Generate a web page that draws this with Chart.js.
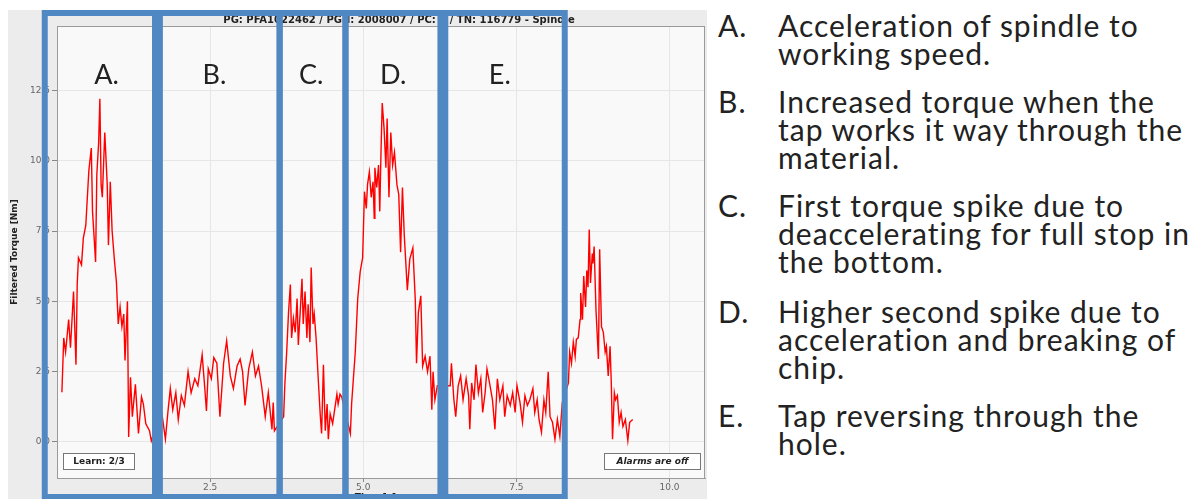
<!DOCTYPE html>
<html>
<head>
<meta charset="utf-8">
<title>Spindle torque</title>
<script src="https://cdn.jsdelivr.net/npm/chart.js@4.4.1/dist/chart.umd.min.js"></script>
<style>
body{margin:0;background:#fff;}
#wrap{position:relative;width:1202px;height:499px;overflow:hidden;}
#torque{position:absolute;left:8px;top:10px;}
#notes{position:absolute;left:718px;top:11px;width:484px;font-family:Lato,"Open Sans",sans-serif;font-size:30px;line-height:28px;letter-spacing:1px;color:#222;}
#notes .item{display:flex;margin-bottom:20px;}
#notes .item:nth-child(3){margin-bottom:22px;}
#notes .k{width:60px;flex:none;}
</style>
</head>
<body>
<div id="wrap">
	<canvas id="torque" width="699" height="489"></canvas>
	<div id="notes">
		<div class="item"><span class="k">A.</span><span>Acceleration of spindle to<br>working speed.</span></div>
		<div class="item"><span class="k">B.</span><span>Increased torque when the<br>tap works it way through the<br>material.</span></div>
		<div class="item"><span class="k">C.</span><span>First torque spike due to<br>deaccelerating for full stop in<br>the bottom.</span></div>
		<div class="item"><span class="k">D.</span><span>Higher second spike due to<br>acceleration and breaking of<br>chip.</span></div>
		<div class="item"><span class="k">E.</span><span>Tap reversing through the<br>hole.</span></div>
	</div>
</div>
<script>
// 시간 [s]
var timeSec = [
	0.08,0.11,0.14,0.19,0.22,0.27,0.31,0.33,0.35,0.40,0.43,0.47,0.52,0.56,0.58,0.63,0.65,0.68,0.70,0.72,0.74,0.78,0.82,0.84,0.87,0.90,0.94,0.97,1.00,1.03,1.06,1.09,1.11,1.15,1.17,1.20,1.23,1.28,1.33,1.38,1.41,1.45,1.51,1.54,1.62,
	1.71,1.77,1.81,1.85,1.89,1.94,1.98,2.03,2.08,2.14,2.19,2.25,2.30,2.37,2.41,2.44,2.47,2.52,2.56,2.61,2.66,2.72,2.77,2.83,2.88,2.94,2.99,3.03,3.07,3.13,3.19,3.24,3.29,3.34,3.40,3.45,3.51,3.53,3.55,
	3.70,3.72,3.75,3.78,3.81,3.83,3.86,3.89,3.92,3.94,3.97,4.00,4.02,4.05,4.08,4.10,4.13,4.15,4.18,4.20,4.23,4.27,4.30,4.32,4.35,4.38,4.41,4.43,4.46,4.50,4.53,4.57,4.59,4.62,4.65,
	4.79,4.81,4.87,4.91,4.95,4.99,5.02,5.05,5.07,5.10,5.13,5.16,5.18,5.19,5.22,5.25,5.27,5.29,5.31,5.34,5.37,5.39,5.42,5.45,5.48,5.51,5.55,5.58,5.61,5.64,5.67,5.72,5.76,5.81,5.85,5.87,5.90,5.94,5.97,6.01,6.05,6.09,6.12,6.14,6.17,6.21,
	6.42,6.44,6.48,6.51,6.55,6.59,6.63,6.68,6.72,6.74,6.77,6.81,6.84,6.88,6.92,6.95,6.99,7.02,7.07,7.11,7.15,7.19,7.23,7.28,7.31,7.35,7.40,7.44,7.48,7.51,7.56,7.60,7.64,7.68,7.72,7.77,7.80,7.84,7.87,7.91,7.95,7.98,8.02,8.05,8.09,8.13,8.17,8.21,8.25,
	8.35,8.37,8.40,8.43,8.46,8.48,8.51,8.54,8.55,8.58,8.60,8.63,8.65,8.67,8.69,8.71,8.74,8.75,8.77,8.80,8.84,8.86,8.89,8.92,8.95,8.97,9.00,9.03,9.05,9.07,9.10,9.12,9.15,9.18,9.21,9.24,9.28,9.32,9.35,9.40
];
// Filtered Torque [Nm]
var torqueNm = [
	1.77,3.70,3.20,4.35,3.35,5.35,2.75,5.60,6.55,6.30,7.25,7.70,9.65,10.45,8.20,6.40,9.50,10.65,12.20,9.15,8.70,11.00,9.15,7.00,9.25,7.50,6.40,5.70,4.20,4.80,4.10,4.55,2.90,5.00,0.18,2.30,0.90,2.05,0.30,1.60,1.35,0.65,0.40,0.04,0.60,
	1.05,0.10,1.05,1.90,1.15,1.75,0.80,1.65,1.30,2.50,1.75,2.25,2.00,3.10,2.00,1.10,2.60,2.25,3.00,2.80,0.90,2.80,3.60,2.35,1.90,2.70,2.95,2.50,1.30,2.60,3.20,2.35,2.70,2.00,0.90,1.75,0.45,1.40,0.40,
	0.90,2.05,3.20,4.60,5.60,3.70,4.40,3.90,5.10,3.45,4.60,5.80,4.20,5.35,3.70,4.90,3.55,6.20,4.20,4.55,3.70,2.05,0.90,0.30,2.75,0.40,1.35,0.10,1.00,0.65,1.10,1.70,1.35,1.70,1.60,
	0.30,1.35,3.20,5.10,6.05,6.55,8.90,8.30,9.15,9.60,8.70,9.25,7.95,9.75,9.05,9.85,8.20,10.30,12.05,11.15,9.75,11.50,8.70,11.00,9.85,10.30,9.15,8.80,6.75,9.05,7.35,5.40,6.50,6.90,5.05,2.80,4.60,5.20,2.70,3.05,2.50,3.05,1.15,2.50,1.50,2.00,
	2.00,2.80,1.50,0.90,2.00,2.35,1.50,2.25,1.65,0.45,2.10,1.50,2.75,1.75,2.25,1.05,1.75,2.60,2.00,1.50,0.45,2.25,1.50,2.00,0.90,1.65,1.30,1.75,1.05,2.00,1.40,0.70,1.65,1.30,1.50,1.90,1.05,1.50,0.80,0.35,1.50,1.05,2.50,0.90,0.70,0.10,0.80,0.20,1.40,
	2.10,3.20,2.80,3.55,3.05,3.65,3.70,4.35,5.30,4.35,5.90,4.80,6.10,5.50,7.55,5.65,6.70,6.35,6.95,4.70,2.95,6.85,4.10,3.90,3.20,3.40,2.35,3.40,2.10,0.10,1.75,1.50,1.65,0.70,1.05,0.55,0.80,0.05,0.70,0.80
];
var xTicks = [2.5, 5.0, 7.5, 10.0];
var yTicks = [0.0, 2.5, 5.0, 7.5, 10.0, 12.5];

// 구간 (A~E) 시작/끝 시간, 라벨 위치
var phaseNames = ['A.', 'B.', 'C.', 'D.', 'E.'];
var phaseStart = [-0.20, 1.68, 3.635, 4.71, 6.34];
var phaseEnd = [1.60, 3.635, 4.71, 6.26, 8.29];
var phaseLabelAt = [0.81, 2.57, 4.15, 5.49, 7.23];

var chartTitle = 'PG: PFA1022462 / PGN: 2008007 / PC: 1 / TN: 116779 - Spindle';

var points = [];
for (var i = 0; i < timeSec.length; i++) {
	points.push({x: timeSec[i], y: torqueNm[i]});
}

// 배경, 제목, 축 제목, 상태 박스
var framePlugin = {
	id: 'frame',
	beforeDraw: function(chart) {
		var c = chart.ctx, a = chart.chartArea;
		c.save();
		c.fillStyle = '#ececec';
		c.fillRect(0, 0, chart.width, chart.height);
		c.fillStyle = '#f9f9f9';
		c.fillRect(a.left, a.top, a.right - a.left, a.bottom - a.top);
		c.fillStyle = '#222';
		c.font = 'bold 10px "DejaVu Sans"';
		c.textAlign = 'center';
		c.textBaseline = 'middle';
		c.fillText(chartTitle, 391, 10);
		// y축 제목
		c.translate(7, 242);
		c.rotate(-Math.PI / 2);
		c.font = 'bold 9px "DejaVu Sans"';
		c.fillText('Filtered Torque [Nm]', 0, 0);
		c.restore();
	},
	afterDatasetsDraw: function(chart) {
		var c = chart.ctx, a = chart.chartArea;
		c.save();
		c.strokeStyle = '#9a9a9a';
		c.lineWidth = 1;
		c.strokeRect(a.left + 0.5, a.top + 0.5, a.right - a.left - 1, a.bottom - a.top);
		c.font = 'bold 9px "DejaVu Sans"';
		c.textAlign = 'center';
		c.textBaseline = 'middle';
		// Learn 박스
		c.fillStyle = '#fff';
		c.fillRect(a.left + 6, a.bottom - 25, 72, 17);
		c.strokeStyle = '#777';
		c.strokeRect(a.left + 6.5, a.bottom - 24.5, 71, 16);
		c.fillStyle = '#222';
		c.fillText('Learn: 2/3', a.left + 42, a.bottom - 16);
		// Alarm 박스
		c.fillStyle = '#fff';
		c.fillRect(a.right - 101, a.bottom - 25, 97, 17);
		c.strokeRect(a.right - 100.5, a.bottom - 24.5, 96, 16);
		c.fillStyle = '#222';
		c.font = 'bold italic 9px "DejaVu Sans"';
		c.fillText('Alarms are off', a.right - 52.5, a.bottom - 16);
		// x축 제목
		c.font = 'bold 9px "DejaVu Sans"';
		c.textBaseline = 'top';
		c.fillText('Time [s]', chart.scales.x.getPixelForValue(5.2), 483);
		c.restore();
	},
	afterDraw: function(chart) {
		// 파란 구간 박스 + 라벨
		var c = chart.ctx, xs = chart.scales.x;
		c.save();
		c.strokeStyle = 'rgb(80,136,196)';
		c.lineWidth = 6;
		for (var i = 0; i < phaseNames.length; i++) {
			var x1 = xs.getPixelForValue(phaseStart[i]);
			var x2 = xs.getPixelForValue(phaseEnd[i]);
			c.strokeRect(x1, 3, x2 - x1, 484);
		}
		c.fillStyle = '#222';
		c.font = '27px Lato';
		c.textAlign = 'center';
		c.textBaseline = 'middle';
		for (var j = 0; j < phaseNames.length; j++) {
			c.fillText(phaseNames[j], xs.getPixelForValue(phaseLabelAt[j]), 65);
		}
		c.restore();
	}
};

new Chart(document.getElementById('torque'), {
	type: 'line',
	data: {
		datasets: [{
			label: 'Spindle',
			data: points,
			borderColor: 'rgb(255,0,0)',
			borderWidth: 1.4,
			pointRadius: 0,
			tension: 0
		}]
	},
	options: {
		responsive: false,
		animation: false,
		devicePixelRatio: 1,
		layout: {padding: {top: 16, right: 2, left: 0, bottom: 0}},
		plugins: {legend: {display: false}, tooltip: {enabled: false}},
		scales: {
			x: {
				type: 'linear',
				min: 0,
				max: 10.58,
				afterBuildTicks: function(s) { s.ticks = xTicks.map(function(v){ return {value: v}; }); },
				afterFit: function(s) { s.height = 21; },
				ticks: {
					color: '#666',
					font: {family: 'DejaVu Sans', size: 9},
					padding: 0,
					maxRotation: 0,
					callback: function(v) { return v.toFixed(1); }
				},
				grid: {color: '#e6e6e6', tickColor: '#888', tickLength: 4},
				border: {color: '#9a9a9a'}
			},
			y: {
				min: -1.28,
				max: 14.79,
				afterBuildTicks: function(s) { s.ticks = yTicks.map(function(v){ return {value: v}; }); },
				afterFit: function(s) { s.width = 49; },
				ticks: {
					color: '#666',
					font: {family: 'DejaVu Sans', size: 9},
					padding: 2,
					callback: function(v) { return v.toFixed(1); }
				},
				grid: {color: '#e6e6e6', tickColor: '#888', tickLength: 5},
				border: {color: '#9a9a9a'}
			}
		}
	},
	plugins: [framePlugin]
});
</script>
</body>
</html>
